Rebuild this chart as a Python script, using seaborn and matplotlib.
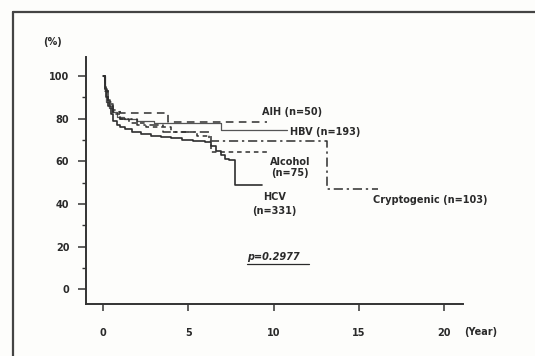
import matplotlib
matplotlib.use("Agg")
import matplotlib.pyplot as plt
from matplotlib.lines import Line2D
import seaborn as sns
import pandas as pd

# Kaplan-Meier style survival estimates (percent) by etiology
aih_t = [0, 0.1, 0.25, 0.4, 0.6, 1.0, 3.8, 9.6]
aih_s = [100, 94, 89, 86, 84, 82.5, 78.5, 78.5]

hbv_t = [0, 0.1, 0.2, 0.35, 0.5, 0.8, 1.2, 2.0, 3.0, 6.9, 10.8]
hbv_s = [100, 93, 88, 85, 83, 81, 80, 79, 78, 74.5, 74.5]

alcohol_t = [0, 0.1, 0.3, 0.6, 1.0, 1.5, 2.5, 4.0, 5.5, 6.3, 9.7]
alcohol_s = [100, 93, 87, 82, 80, 78, 76, 74, 72, 64.5, 64.5]

hcv_t = [0, 0.1, 0.2, 0.3, 0.45, 0.6, 0.8, 1.0, 1.3, 1.7, 2.2, 2.8, 3.4,
         4.0, 4.6, 5.3, 6.0, 6.3, 6.6, 6.9, 7.15, 7.4, 7.75, 9.3]
hcv_s = [100, 95, 90, 86, 82, 79, 77, 76, 75, 74, 73, 72, 71.5,
         71, 70, 69.5, 69, 67, 65, 63, 61, 60.5, 49, 49]

crypto_t = [0, 0.1, 0.3, 0.6, 1.0, 2.0, 3.5, 6.2, 13.1, 16.1]
crypto_s = [100, 94, 88, 83, 80, 77, 74, 69.5, 47, 47]

p_value = "0.2977"
x_ticks = [0, 5, 10, 15, 20]
y_ticks = [0, 20, 40, 60, 80, 100]

sns.set_theme(style="white")
plt.rcParams["font.family"] = ["DejaVu Sans"]

fig = plt.figure(figsize=(5.35, 3.56), dpi=100)
fig.patch.set_facecolor("#fdfdfb")
ax = fig.add_axes([86 / 535, 1 - 304 / 356, (463 - 86) / 535, (304 - 57) / 356])
ax.set_facecolor("#fdfdfb")

ink = "#2e2e2e"
groups = [
    ("AIH", aih_t, aih_s, dict(linestyle=(0, (5, 3.5)), color=ink, linewidth=1.1)),
    ("HBV", hbv_t, hbv_s, dict(linestyle="-", color="#555555", linewidth=0.9)),
    ("Alcohol", alcohol_t, alcohol_s, dict(linestyle=(0, (3, 2.5)), color=ink, linewidth=1.1)),
    ("HCV", hcv_t, hcv_s, dict(linestyle="-", color=ink, linewidth=1.2)),
    ("Cryptogenic", crypto_t, crypto_s, dict(linestyle=(0, (6, 2.5, 1.5, 2.5)), color=ink, linewidth=1.1)),
]
for name, t, s, style in groups:
    df = pd.DataFrame({"t": t, "s": s})
    sns.lineplot(data=df, x="t", y="s", ax=ax, estimator=None, sort=False,
                 drawstyle="steps-post", legend=False, **style)

ax.set_xlim(-1, 21.1)
ax.set_ylim(-7, 109)
ax.set_xticks(x_ticks)
ax.set_yticks(y_ticks)
ax.set_yticks([10, 30, 50, 70, 90], minor=True)
ax.set_xlabel("")
ax.set_ylabel("")
for side in ("top", "right"):
    ax.spines[side].set_visible(False)
for side in ("left", "bottom"):
    ax.spines[side].set_color("#333333")
    ax.spines[side].set_linewidth(1.4)
ax.tick_params(axis="y", which="major", direction="out", length=6, width=1.1,
               color="#333333", labelsize=7, labelcolor="#2a2a2a", pad=6, left=True)
ax.tick_params(axis="y", which="minor", direction="out", length=3, width=1.0,
               color="#333333", left=True)
ax.tick_params(axis="x", which="major", direction="out", length=5, width=1.1,
               color="#333333", labelsize=7, labelcolor="#2a2a2a", pad=12, bottom=True)
for lbl in ax.get_xticklabels() + ax.get_yticklabels():
    lbl.set_fontweight("bold")

lab = dict(fontsize=7, color="#2a2a2a", fontweight="bold")
ax.text(9.33, 83.1, "AIH (n=50)", ha="left", va="center", **lab)
ax.text(10.97, 73.7, "HBV (n=193)", ha="left", va="center", **lab)
ax.text(10.95, 59.6, "Alcohol", ha="center", va="center", **lab)
ax.text(10.95, 54.4, "(n=75)", ha="center", va="center", **lab)
ax.text(10.05, 43.2, "HCV", ha="center", va="center", **lab)
ax.text(10.05, 36.6, "(n=331)", ha="center", va="center", **lab)
ax.text(15.84, 41.8, "Cryptogenic (n=103)", ha="left", va="center", **lab)
ax.text(8.45, 15.0, "p=" + p_value, ha="left", va="center", style="italic", **lab)
ax.plot([8.45, 12.05], [11.6, 11.6], color="#2a2a2a", linewidth=0.9)

fig.text(53 / 535, 1 - 42 / 356, "(%)", ha="center", va="center", **lab)
fig.text(481 / 535, 1 - 332 / 356, "(Year)", ha="center", va="center", **lab)

# page frame (left and top edges)
fig.add_artist(Line2D([13 / 535, 13 / 535], [0, 1 - 12 / 356],
                      transform=fig.transFigure, color="#444444", linewidth=1.6))
fig.add_artist(Line2D([13 / 535, 1], [1 - 12 / 356, 1 - 12 / 356],
                      transform=fig.transFigure, color="#444444", linewidth=1.6))

fig.savefig("out.png", dpi=100, facecolor=fig.get_facecolor())
